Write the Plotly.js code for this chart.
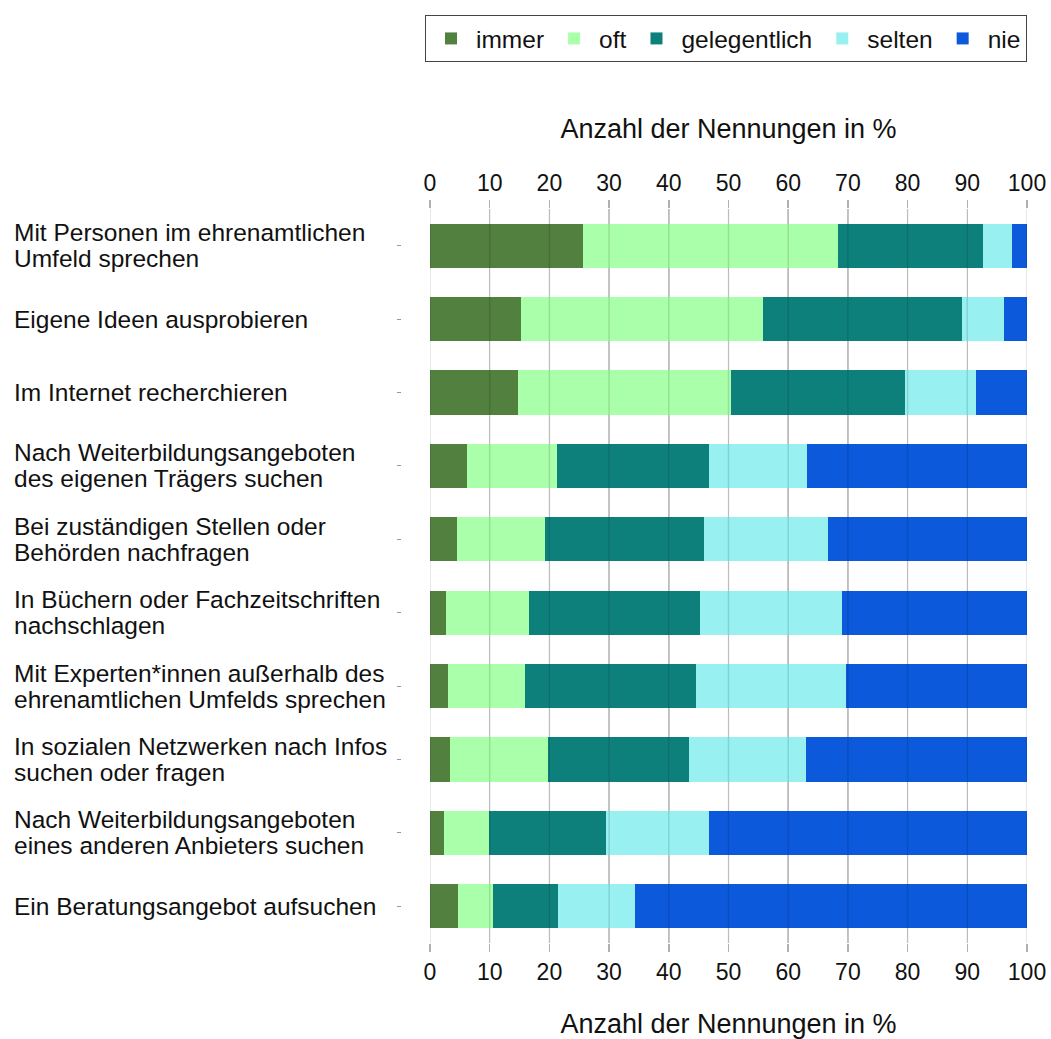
<!DOCTYPE html>
<html>
<head>
<meta charset="utf-8">
<script src="https://cdn.plot.ly/plotly-3.0.1.min.js"></script>
<style>html,body{margin:0;padding:0;background:#fff;}#chart{width:1051px;height:1039px;}</style>
</head>
<body>
<div id="chart"></div>
<script>
const categories = [
  "Mit Personen im ehrenamtlichen<br>Umfeld sprechen",
  "Eigene Ideen ausprobieren",
  "Im Internet recherchieren",
  "Nach Weiterbildungsangeboten<br>des eigenen Trägers suchen",
  "Bei zuständigen Stellen oder<br>Behörden nachfragen",
  "In Büchern oder Fachzeitschriften<br>nachschlagen",
  "Mit Experten*innen außerhalb des<br>ehrenamtlichen Umfelds sprechen",
  "In sozialen Netzwerken nach Infos<br>suchen oder fragen",
  "Nach Weiterbildungsangeboten<br>eines anderen Anbieters suchen",
  "Ein Beratungsangebot aufsuchen"
];
const seriesNames = ["immer", "oft", "gelegentlich", "selten", "nie"];
const immer        = [25.6, 15.2, 14.8,  6.2,  4.5,  2.7,  3.0,  3.4,  2.4,  4.7];
const oft          = [42.7, 40.6, 35.7, 15.1, 14.8, 13.8, 12.9, 16.3,  7.5,  5.8];
const gelegentlich = [24.3, 33.3, 29.0, 25.5, 26.6, 28.7, 28.7, 23.7, 19.5, 11.0];
const selten       = [ 4.9,  7.0, 12.0, 16.3, 20.7, 23.8, 25.1, 19.5, 17.4, 12.9];
const nie          = [ 2.5,  3.9,  8.5, 36.9, 33.4, 31.0, 30.3, 37.1, 53.2, 65.6];
const xTicks = [0, 10, 20, 30, 40, 50, 60, 70, 80, 90, 100];
const colors = ["#52803e", "#aaffaa", "#0e807c", "#98f0f0", "#0c5adb"];

(function () {
const values = [immer, oft, gelegentlich, selten, nie];
const FONT = "'Liberation Sans', Arial, sans-serif";

const traces = values.map((v, i) => ({
  type: "bar",
  orientation: "h",
  name: seriesNames[i],
  x: v,
  y: categories,
  marker: {color: colors[i], line: {width: 0}},
  hoverinfo: "x+name"
}));

const gridShapes = xTicks.map(t => ({
  type: "line", xref: "x", yref: "paper", x0: t, x1: t, y0: 0, y1: 1,
  layer: "above", line: {color: "rgba(0,0,0,0.12)", width: 1.5}
}));

const annotations = [];
categories.forEach(c => {
  const lines = c.split("<br>");
  const n = lines.length;
  lines.forEach((ln, k) => {
    annotations.push({
      xref: "paper", yref: "y", x: 12 / 1027, y: c, text: ln,
      xanchor: "left", yanchor: "middle", align: "left", showarrow: false,
      yshift: ((n - 1) / 2 - k) * 26,
      font: {family: FONT, size: 24.5, color: "#111"}
    });
  });
});

const axisCommon = {
  range: [0, 100],
  tickvals: xTicks,
  ticktext: xTicks.map(String),
  showgrid: true, gridcolor: "#d6d6d6", gridwidth: 1.5,
  zeroline: false, showline: false,
  ticks: "outside", ticklen: 8, tickcolor: "#b0b0b0", tickwidth: 1.5,
  tickfont: {family: FONT, size: 23, color: "#111"},
  domain: [430 / 1027, 1],
  fixedrange: true
};

const layout = {
  width: 1051, height: 1039,
  margin: {l: 0, r: 24, t: 209, b: 96},
  paper_bgcolor: "#fff", plot_bgcolor: "#fff",
  barmode: "stack", bargap: 0.4,
  font: {family: FONT, color: "#111"},
  xaxis: Object.assign({}, axisCommon, {
    side: "bottom",
    title: {text: "Anzahl der Nennungen in %", font: {family: FONT, size: 27, color: "#111"}, standoff: 30}
  }),
  xaxis2: Object.assign({}, axisCommon, {
    side: "top", overlaying: "x", anchor: "y", matches: "x",
    title: {text: "Anzahl der Nennungen in %", font: {family: FONT, size: 27, color: "#111"}, standoff: 23}
  }),
  yaxis: {
    type: "category", autorange: "reversed",
    anchor: "free", position: 401 / 1027,
    showticklabels: false, ticks: "outside", ticklen: 4, tickcolor: "#999", tickwidth: 1,
    showgrid: false, zeroline: false, showline: false, fixedrange: true
  },
  legend: {
    orientation: "h", xref: "paper", yref: "container",
    x: 1, xanchor: "right", y: 1 - 15 / 1039, yanchor: "top",
    bordercolor: "#444", borderwidth: 1, bgcolor: "#fff",
    font: {family: FONT, size: 24.5, color: "#111"},
    traceorder: "normal", itemwidth: 40
  },
  shapes: gridShapes,
  annotations: annotations
};

const topAxisTrace = {type: "scatter", x: xTicks, y: xTicks.map(() => categories[0]), xaxis: "x2", yaxis: "y",
  mode: "none", showlegend: false, hoverinfo: "skip"};

Plotly.newPlot("chart", traces.concat([topAxisTrace]), layout, {displayModeBar: false, staticPlot: true});
})();
</script>
</body>
</html>
